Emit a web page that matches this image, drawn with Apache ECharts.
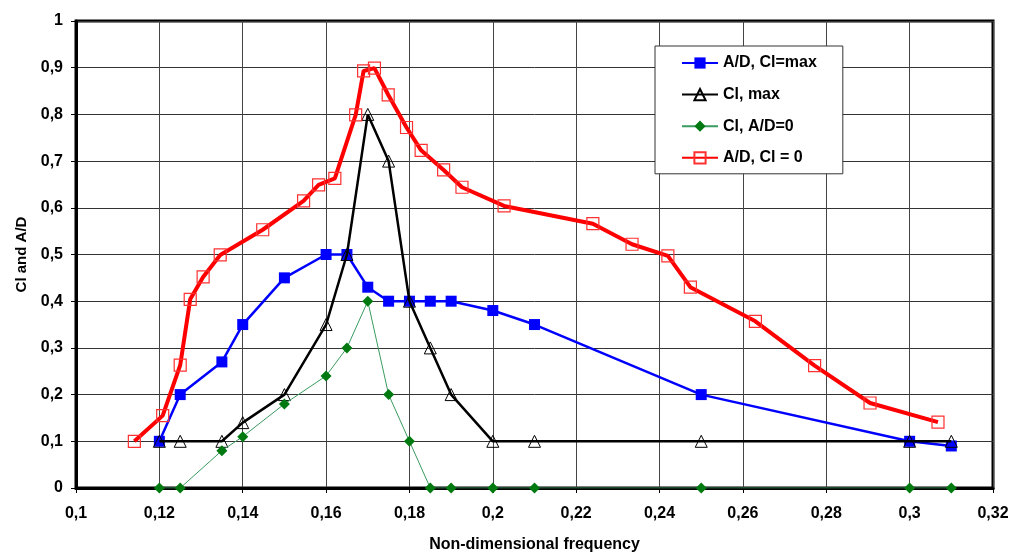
<!DOCTYPE html>
<html>
<head>
<meta charset="utf-8">
<script src="https://cdn.jsdelivr.net/npm/echarts@6/dist/echarts.min.js"></script>
<style>
  html, body { margin: 0; padding: 0; background: #fff; }
  #chart { width: 1013px; height: 558px; }
</style>
</head>
<body>
<div id="chart"></div>
<script>
// Shared frequency grid for the three measured series
const freq = [0.12, 0.125, 0.135, 0.14, 0.15, 0.16, 0.165, 0.17, 0.175, 0.18, 0.185, 0.19, 0.2, 0.21, 0.25, 0.3, 0.31];
const adClMax = [0.1, 0.2, 0.27, 0.35, 0.45, 0.5, 0.5, 0.43, 0.4, 0.4, 0.4, 0.4, 0.38, 0.35, 0.2, 0.1, 0.09];
const clMax   = [0.1, 0.1, 0.1, 0.14, 0.2, 0.35, 0.5, 0.8, 0.7, 0.4, 0.3, 0.2, 0.1, 0.1, 0.1, 0.1, 0.1];
const clAd0   = [0, 0, 0.08, 0.11, 0.18, 0.24, 0.3, 0.4, 0.2, 0.1, 0, 0, 0, 0, 0, 0, 0];

// A/D at zero lift uses its own frequency points
const freqCl0 = [0.114, 0.1208, 0.125, 0.1274, 0.1305, 0.1346, 0.1448, 0.1546, 0.1582, 0.1621, 0.1671, 0.169, 0.1716, 0.1749, 0.1793, 0.1828, 0.1882, 0.1926, 0.2027, 0.224, 0.2334, 0.242, 0.2474, 0.263, 0.2772, 0.2905, 0.3068];
const adCl0   = [0.1, 0.155, 0.263, 0.404, 0.452, 0.499, 0.553, 0.615, 0.649, 0.663, 0.799, 0.893, 0.899, 0.842, 0.772, 0.723, 0.681, 0.644, 0.604, 0.566, 0.522, 0.497, 0.43, 0.357, 0.262, 0.182, 0.141];

const seriesNames = ['A/D, Cl=max', 'Cl, max', 'Cl, A/D=0', 'A/D, Cl = 0'];

const pairs = (xs, ys) => xs.map((x, i) => [x, ys[i]]);
const comma = v => String(+v.toFixed(2)).replace('.', ',');
const FONT = '"Liberation Sans", Arial, sans-serif';

const chart = echarts.init(document.getElementById('chart'), null, { renderer: 'canvas' });

chart.setOption({
  animation: false,
  backgroundColor: '#fff',
  textStyle: { fontFamily: FONT },
  grid: {
    left: 76, right: 20, top: 21, bottom: 65,
    show: true, borderColor: '#000', borderWidth: 3, backgroundColor: 'transparent'
  },
  legend: {
    orient: 'vertical',
    left: 655, top: 46,
    data: seriesNames,
    itemWidth: 36, itemHeight: 14, itemGap: 15.6,
    padding: [9, 26, 8, 26],
    backgroundColor: '#fff',
    borderColor: '#333', borderWidth: 1,
    textStyle: { fontFamily: FONT, fontWeight: 'bold', fontSize: 16, color: '#000' }
  },
  xAxis: {
    type: 'value',
    min: 0.1, max: 0.32, interval: 0.02,
    name: 'Non-dimensional frequency',
    nameLocation: 'middle', nameGap: 49,
    nameTextStyle: { fontFamily: FONT, fontWeight: 'bold', fontSize: 16, color: '#000' },
    axisLine: { show: true, onZero: false, lineStyle: { color: '#000', width: 3 } },
    axisTick: { show: true, inside: false, length: 5, lineStyle: { color: '#000', width: 1 } },
    axisLabel: { margin: 18, fontFamily: FONT, fontWeight: 'bold', fontSize: 16, color: '#000', formatter: comma },
    splitLine: { show: true, lineStyle: { color: '#444', width: 1 } }
  },
  yAxis: {
    type: 'value',
    min: 0, max: 1, interval: 0.1,
    name: 'Cl and A/D',
    nameLocation: 'middle', nameGap: 45,
    nameTextStyle: { fontFamily: FONT, fontWeight: 'bold', fontSize: 15, color: '#000' },
    axisLine: { show: true, onZero: false, lineStyle: { color: '#000', width: 3 } },
    axisTick: { show: true, inside: false, length: 5, lineStyle: { color: '#000', width: 1 } },
    axisLabel: { margin: 13, fontFamily: FONT, fontWeight: 'bold', fontSize: 16, color: '#000', formatter: comma },
    splitLine: { show: true, lineStyle: { color: '#333', width: 1 } }
  },
  series: [
    {
      name: seriesNames[0], type: 'line', z: 2,
      data: pairs(freq, adClMax),
      symbol: 'rect', symbolSize: 11, showAllSymbol: true,
      lineStyle: { color: '#0000ff', width: 2.5 },
      itemStyle: { color: '#0000ff', borderColor: '#0000ff', borderWidth: 0 }
    },
    {
      name: seriesNames[1], type: 'line', z: 3,
      data: pairs(freq, clMax),
      symbol: 'triangle', symbolSize: 12, showAllSymbol: true,
      lineStyle: { color: '#000', width: 2.5 },
      itemStyle: { color: 'rgba(255,255,255,0)', borderColor: '#000', borderWidth: 1 }
    },
    {
      name: seriesNames[2], type: 'line', z: 4,
      data: pairs(freq, clAd0),
      symbol: 'diamond', symbolSize: 11, showAllSymbol: true,
      lineStyle: { color: '#3a9a60', width: 1 },
      itemStyle: { color: '#007a10', borderColor: '#007a10', borderWidth: 0 }
    },
    {
      name: seriesNames[3], type: 'line', z: 5,
      data: pairs(freqCl0, adCl0),
      symbol: 'rect', symbolSize: 12, showAllSymbol: true,
      lineStyle: { color: '#ff0000', width: 4 },
      itemStyle: { color: 'rgba(255,255,255,0)', borderColor: '#ff3030', borderWidth: 1.2 }
    }
  ]
});
</script>
</body>
</html>
